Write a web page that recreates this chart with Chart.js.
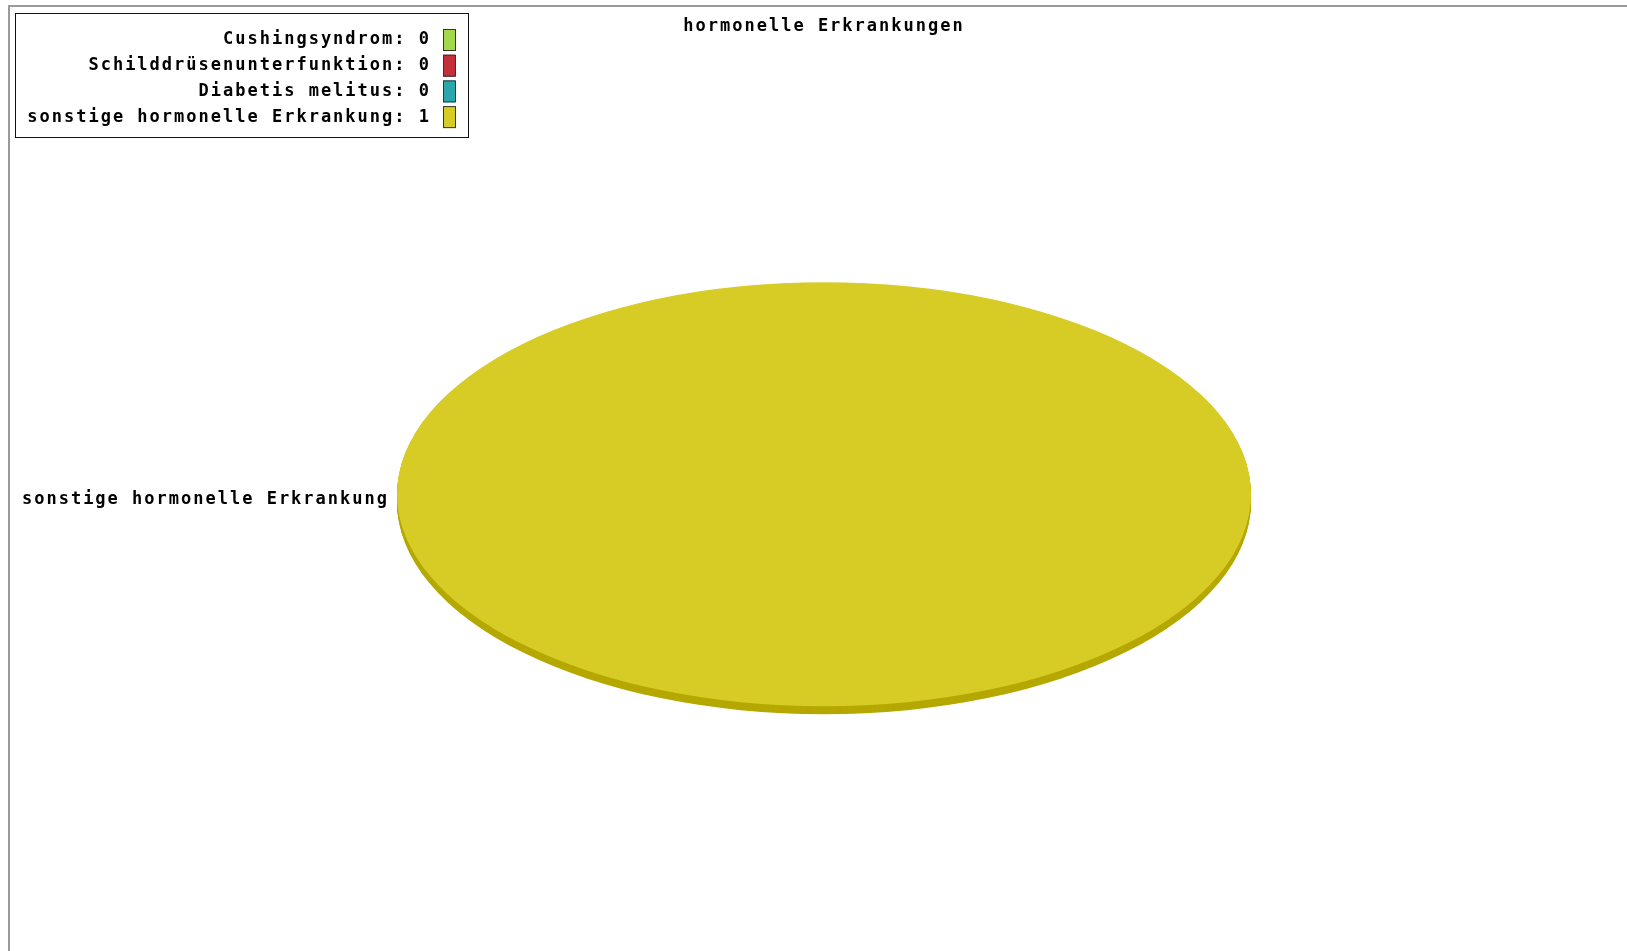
<!DOCTYPE html>
<html>
<head>
<meta charset="utf-8">
<script src="https://cdn.jsdelivr.net/npm/chart.js@4/dist/chart.umd.min.js"></script>
<style>
  body { margin: 0; background: #fff; overflow: hidden; }
  #wrap { position: relative; width: 1627px; height: 951px; }
  #frame { position: absolute; left: 8px; top: 5px; right: -4px; bottom: -4px; border-top: 2px solid #9a9a9a; border-left: 2px solid #9a9a9a; }
  canvas { position: absolute; left: 0; top: 0; }
</style>
</head>
<body>
<div id="wrap">
  <div id="frame"></div>
  <canvas id="hormone-pie" width="1627" height="951"></canvas>
</div>
<script>
// --------------- data --------------- //
const categories = [
  'Cushingsyndrom',
  'Schilddrüsenunterfunktion',
  'Diabetis melitus',
  'sonstige hormonelle Erkrankung'
];
const counts = [0, 0, 0, 1];
const sliceColors = ['#a3d84a', '#c4303a', '#2aa6ad', '#d7cb25'];
const sideColor = '#b5a800';

const textFont = 'bold 17px "DejaVu Sans Mono", monospace';
const textSpacing = '2px';

// squash the pie into an ellipse and give it some depth
const ellipsePlugin = {
  id: 'ellipse',
  beforeDraw(chart) {
    chart.ctx.letterSpacing = textSpacing;
  },
  beforeDatasetsDraw(chart, args, opts) {
    const ctx = chart.ctx;
    const arcs = chart.getDatasetMeta(0).data;
    const cx = arcs[0].x, cy = arcs[0].y;
    ctx.save();
    ctx.translate(cx, cy);
    ctx.scale(1, opts.ratio);
    ctx.translate(-cx, -cy);
    for (let k = opts.depth; k >= 1; k--) {
      ctx.save();
      ctx.translate(0, k / opts.ratio);
      arcs.forEach(arc => {
        const saved = arc.options;
        arc.options = Object.assign({}, saved, {backgroundColor: sideColor});
        arc.draw(ctx);
        arc.options = saved;
      });
      ctx.restore();
    }
  },
  afterDatasetsDraw(chart) {
    chart.ctx.restore();
  }
};

// slice labels + boxed legend like the original
const labelPlugin = {
  id: 'pieLabels',
  afterDraw(chart, args, opts) {
    const ctx = chart.ctx;
    const ratio = chart.options.plugins.ellipse.ratio;
    const arcs = chart.getDatasetMeta(0).data;
    ctx.save();
    ctx.letterSpacing = textSpacing;
    ctx.font = textFont;
    ctx.fillStyle = '#000';
    ctx.textBaseline = 'middle';

    arcs.forEach((arc, i) => {
      if (!counts[i]) return;
      const mid = (arc.startAngle + arc.endAngle) / 2;
      const x = arc.x + Math.cos(mid) * (arc.outerRadius + 10);
      const y = arc.y + Math.sin(mid) * arc.outerRadius * ratio + 5;
      ctx.textAlign = Math.cos(mid) < 0 ? 'right' : 'left';
      ctx.fillText(categories[i], x + (Math.cos(mid) < 0 ? 2 : 0), y);
    });

    // legend box
    const box = opts.box;
    ctx.fillStyle = '#fff';
    ctx.fillRect(box.x, box.y, box.w, box.h);
    ctx.strokeStyle = '#111';
    ctx.lineWidth = 1;
    ctx.strokeRect(box.x + 0.5, box.y + 0.5, box.w, box.h);
    ctx.textAlign = 'right';
    categories.forEach((name, i) => {
      const y = box.y + 27 + i * 25.7;
      ctx.fillStyle = '#000';
      ctx.fillText(name + ': ' + counts[i], box.x + 416, y);
      ctx.fillStyle = sliceColors[i];
      ctx.fillRect(box.x + 428, y - 11, 12, 22);
      ctx.strokeStyle = '#333';
      ctx.strokeRect(box.x + 428.5, y - 10.5, 12, 21);
    });
    ctx.restore();
  }
};

const hormoneData = {
  labels: categories,
  datasets: [{
    label: 'hormonelle Erkrankungen',
    data: counts,
    backgroundColor: sliceColors,
    borderWidth: 0,
  }]
};

const hormoneOptions = {
  responsive: false,
  animation: false,
  rotation: 90,
  radius: 427,
  layout: {
    padding: {left: 21, right: 0, top: 0, bottom: 5}
  },
  plugins: {
    legend: {
      display: false
    },
    tooltip: {
      enabled: false
    },
    title: {
      display: true,
      text: 'hormonelle Erkrankungen',
      color: '#000',
      font: {family: '"DejaVu Sans Mono", monospace', size: 17, weight: 'bold', lineHeight: 1.2},
      padding: {top: 16, bottom: 6},
    },
    ellipse: {
      ratio: 212 / 427,
      depth: 8,
    },
    pieLabels: {
      box: {x: 15, y: 13, w: 453, h: 124},
    }
  },
};

const hormoneChart = new Chart(
  document.getElementById('hormone-pie'),
  {
    type: 'pie',
    data: hormoneData,
    options: hormoneOptions,
    plugins: [ellipsePlugin, labelPlugin]
  }
);
</script>
</body>
</html>
